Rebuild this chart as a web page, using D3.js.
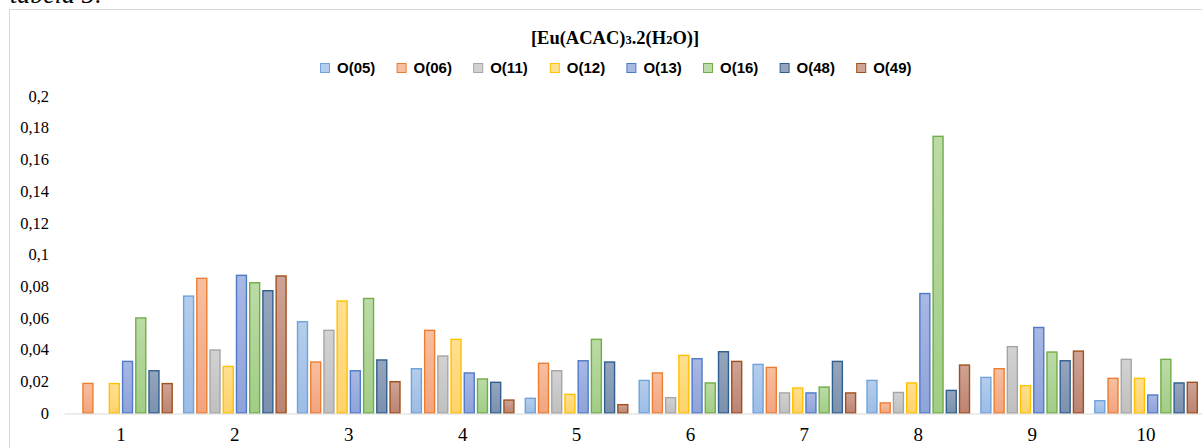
<!DOCTYPE html>
<html><head><meta charset="utf-8">
<script src="https://cdn.jsdelivr.net/npm/d3@7"></script>
<style>
html,body{margin:0;padding:0;background:#fff;}
svg{display:block;}
</style></head>
<body>
<script>
const categories = ["1","2","3","4","5","6","7","8","9","10"];
const seriesNames = ["O(05)","O(06)","O(11)","O(12)","O(13)","O(16)","O(48)","O(49)"];
const O05 = [0, 0.0742, 0.058, 0.0284, 0.0097, 0.021, 0.0311, 0.021, 0.0229, 0.0082];
const O06 = [0.0191, 0.0854, 0.0326, 0.0526, 0.0318, 0.0257, 0.0292, 0.0068, 0.0284, 0.0223];
const O11 = [0, 0.0402, 0.0526, 0.0364, 0.0271, 0.0101, 0.0131, 0.0134, 0.0423, 0.0343];
const O12 = [0.019, 0.0298, 0.0711, 0.0469, 0.0122, 0.0368, 0.0162, 0.0194, 0.0177, 0.0223];
const O13 = [0.033, 0.0873, 0.0271, 0.0257, 0.0334, 0.0347, 0.0131, 0.0758, 0.0544, 0.0118];
const O16 = [0.0604, 0.0826, 0.0727, 0.0219, 0.0469, 0.0194, 0.0168, 0.175, 0.0389, 0.0343];
const O48 = [0.0271, 0.0776, 0.0339, 0.0198, 0.0326, 0.0391, 0.033, 0.0147, 0.0334, 0.0194];
const O49 = [0.019, 0.0869, 0.0202, 0.0086, 0.0057, 0.033, 0.0131, 0.0307, 0.0395, 0.0198];
const seriesValues = [O05, O06, O11, O12, O13, O16, O48, O49];
const yTicks = [0, 0.02, 0.04, 0.06, 0.08, 0.1, 0.12, 0.14, 0.16, 0.18, 0.2];
const fillTop = ["#b4cdec","#f7bfa0","#d2d2d2","#ffdf91","#a9b8e4","#bcdba6","#95a5bd","#cfa395"];
const fillBot = ["#9dbde6","#f2a47e","#c0c0c0","#ffd36a","#8ea3da","#a2cd86","#7c91ae","#bb8472"];
const strokes = ["#6fa3da","#ed7d31","#a5a5a5","#ffc000","#4f7ac7","#70ad47","#2f5f8f","#a0501c"];

const W = 1202, H = 448;
const svg = d3.select("body").append("svg").attr("width", W).attr("height", H);

const defs = svg.append("defs");
seriesNames.forEach((s, i) => {
  const g = defs.append("linearGradient").attr("id", "g" + i)
    .attr("x1", 0).attr("y1", 0).attr("x2", 0).attr("y2", 1);
  g.append("stop").attr("offset", "0%").attr("stop-color", fillTop[i]);
  g.append("stop").attr("offset", "100%").attr("stop-color", fillBot[i]);
});

// chart frame
svg.append("rect").attr("x", 9.5).attr("y", 9.5).attr("width", 1300).attr("height", 460)
  .attr("fill", "#fff").attr("stroke", "#d9d9d9").attr("stroke-width", 1);

// caption text cut off at top (as in the reference)
svg.append("text").attr("x", 10).attr("y", 3)
  .attr("font-family", "Liberation Serif").attr("font-style", "italic")
  .attr("font-size", 26).attr("fill", "#000").text("tabela 5:");

const x0 = d3.scaleBand().domain(categories).range([64, 1203]).padding(0);
const bw = x0.bandwidth();
const x1 = d3.scaleBand().domain(seriesNames).range([bw * 0.044, bw * 0.956]).paddingInner(0.14);
const y = d3.scaleLinear().domain([0, 0.2]).range([413, 96]);

const fmt = v => String(+v.toFixed(2)).replace(".", ",");

// y axis labels
const yAxis = svg.append("g").attr("transform", "translate(64,0)")
  .call(d3.axisLeft(y).tickValues(yTicks).tickFormat(fmt).tickSize(0).tickPadding(15));
yAxis.select(".domain").remove();
yAxis.selectAll("text").attr("font-family", "Liberation Serif").attr("font-size", 16.5).attr("fill", "#000");

// bars
const groups = svg.append("g").selectAll("g").data(categories).join("g")
  .attr("transform", d => `translate(${x0(d)},0)`);
groups.selectAll("rect")
  .data((c, ci) => seriesNames.map((s, si) => ({ s, si, v: seriesValues[si][ci] })).filter(d => d.v > 0))
  .join("rect")
  .attr("x", d => x1(d.s) + 0.7)
  .attr("width", x1.bandwidth() - 1.4)
  .attr("y", d => y(d.v) + 0.7)
  .attr("height", d => Math.max(0, y(0) - y(d.v) - 0.7))
  .attr("fill", d => `url(#g${d.si})`)
  .attr("stroke", d => strokes[d.si])
  .attr("stroke-width", 1.4);

// x axis
const xAxis = svg.append("g").attr("transform", "translate(0,413.5)")
  .call(d3.axisBottom(x0).tickSize(0).tickPadding(14));
xAxis.select(".domain").attr("stroke", "#d9d9d9").attr("stroke-width", 1);
xAxis.selectAll("text").attr("font-family", "Liberation Serif").attr("font-size", 19).attr("fill", "#000");

// title
const title = svg.append("text").attr("x", 615).attr("y", 44).attr("text-anchor", "middle")
  .attr("font-family", "Liberation Serif").attr("font-weight", "bold").attr("font-size", 18.5).attr("fill", "#000");
title.append("tspan").text("[Eu(ACAC)");
title.append("tspan").attr("font-size", 12.5).text("3");
title.append("tspan").text(".2(H");
title.append("tspan").attr("font-size", 12.5).text("2");
title.append("tspan").text("O)]");

// legend
const legendStep = 76.6;
const legend = svg.append("g").attr("transform", "translate(320,0)");
const li = legend.selectAll("g").data(seriesNames).join("g")
  .attr("transform", (d, i) => `translate(${i * legendStep},0)`);
li.append("rect").attr("x", 0.5).attr("y", 63.5).attr("width", 9).attr("height", 9)
  .attr("fill", (d, i) => fillTop[i]).attr("stroke", (d, i) => strokes[i]).attr("stroke-width", 1);
li.append("text").attr("x", 17).attr("y", 73)
  .attr("font-family", "Liberation Sans").attr("font-weight", "bold").attr("font-size", 15)
  .attr("fill", "#000").text(d => d);
</script>
</body></html>
